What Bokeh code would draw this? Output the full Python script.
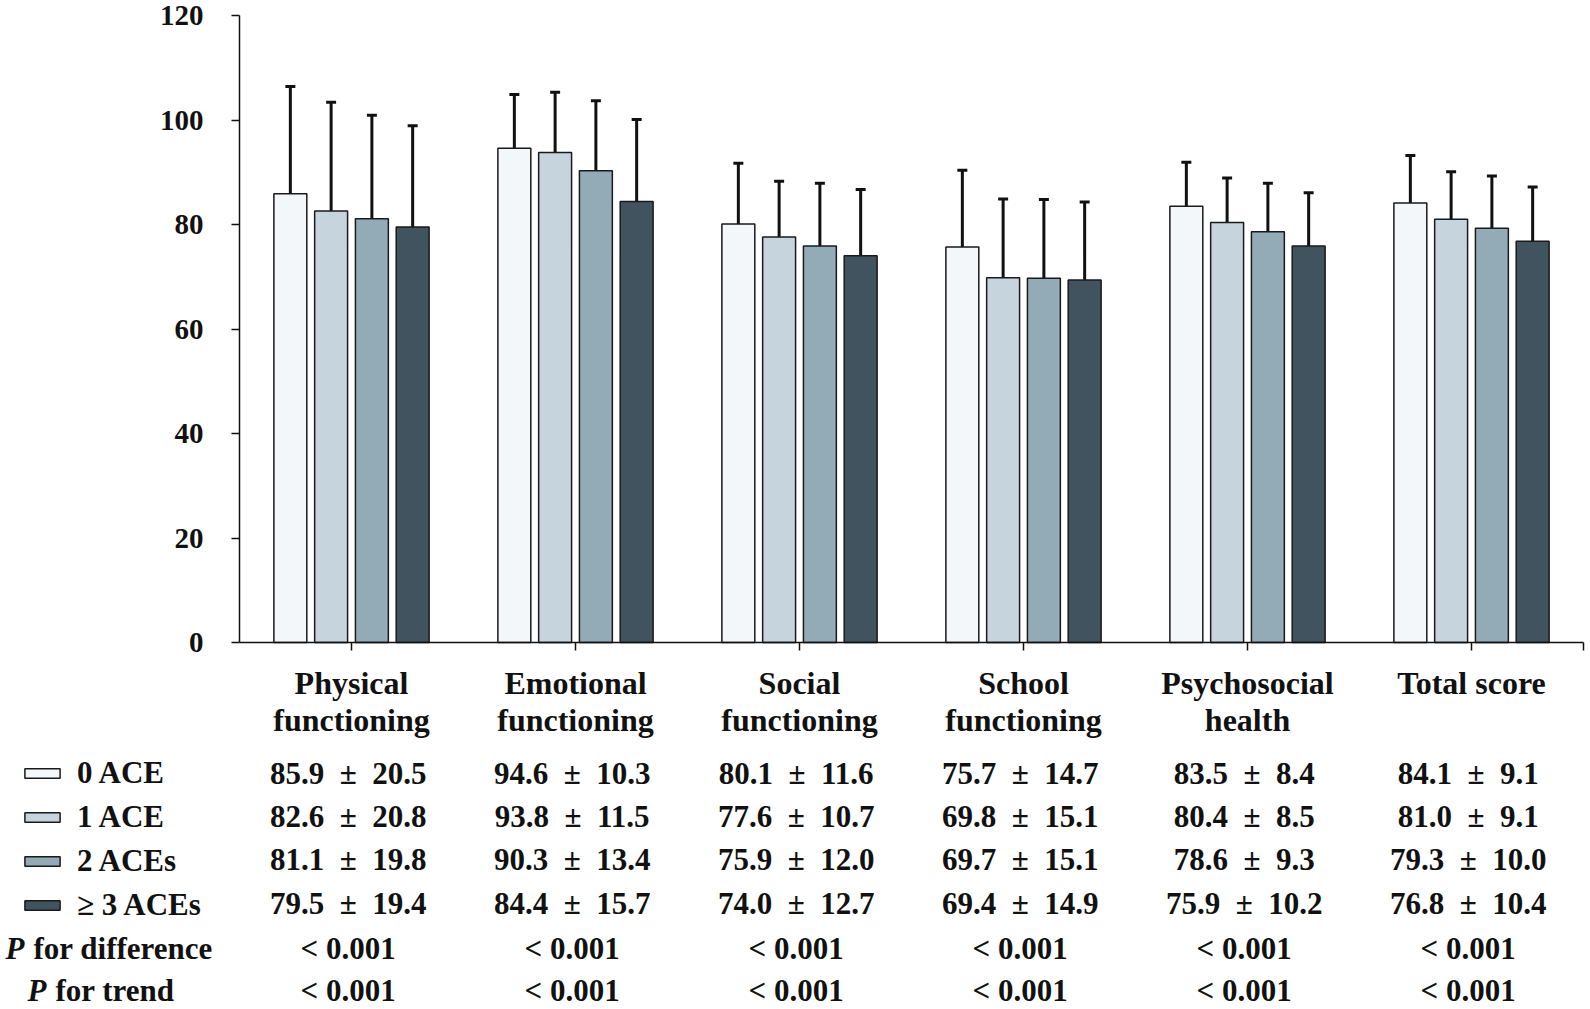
from bokeh.plotting import figure
from bokeh.models import (Range1d, LinearAxis, FixedTicker, Whisker, TeeHead,
                          ColumnDataSource, Legend, LegendItem)
from bokeh.core.properties import value
from bokeh.embed import file_html
from bokeh.resources import INLINE

# ---------------- data ----------------
categories = ["Physical functioning", "Emotional functioning", "Social functioning",
              "School functioning", "Psychosocial health", "Total score"]
category_labels = ["Physical\nfunctioning", "Emotional\nfunctioning", "Social\nfunctioning",
                   "School\nfunctioning", "Psychosocial\nhealth", "Total score"]
groups = ["0 ACE", "1 ACE", "2 ACEs", "\u2265 3 ACEs"]

mean_0ace = [85.9, 94.6, 80.1, 75.7, 83.5, 84.1]
sd_0ace = [20.5, 10.3, 11.6, 14.7, 8.4, 9.1]
mean_1ace = [82.6, 93.8, 77.6, 69.8, 80.4, 81.0]
sd_1ace = [20.8, 11.5, 10.7, 15.1, 8.5, 9.1]
mean_2aces = [81.1, 90.3, 75.9, 69.7, 78.6, 79.3]
sd_2aces = [19.8, 13.4, 12.0, 15.1, 9.3, 10.0]
mean_3aces = [79.5, 84.4, 74.0, 69.4, 75.9, 76.8]
sd_3aces = [19.4, 15.7, 12.7, 14.9, 10.2, 10.4]

p_difference = ["< 0.001", "< 0.001", "< 0.001", "< 0.001", "< 0.001", "< 0.001"]
p_trend = ["< 0.001", "< 0.001", "< 0.001", "< 0.001", "< 0.001", "< 0.001"]

y_ticks = [0, 20, 40, 60, 80, 100, 120]

means = [mean_0ace, mean_1ace, mean_2aces, mean_3aces]
sds = [sd_0ace, sd_1ace, sd_2aces, sd_3aces]

# ---------------- layout / style ----------------
colors = ["#f3f7fa", "#c6d5dd", "#93aab7", "#41535e"]
FONT = "Liberation Serif"
W, H = 1590, 1009
PX_CAT = 224.0      # pixels per category
X0 = 239.0          # pixel position of category axis start
Y0 = 642.0          # pixel position of y = 0
PX_Y = 5.225        # pixels per y unit

x_start = -X0 / PX_CAT
x_end = (W - X0) / PX_CAT
y_end = Y0 / PX_Y
y_start = -(H - Y0) / PX_Y


def px_x(px):
    return x_start + px / PX_CAT


def px_y(py):
    return (Y0 - py) / PX_Y


p = figure(width=W, height=H, x_range=Range1d(x_start, x_end),
           y_range=Range1d(y_start, y_end), output_backend="svg",
           toolbar_location=None, min_border=0, x_axis_type=None, y_axis_type=None)
p.outline_line_color = None
p.background_fill_color = "white"

n = len(categories)
centers = [i + 0.5 for i in range(n)]

# y axis
yaxis = LinearAxis(fixed_location=0, bounds=(0, 120), ticker=FixedTicker(ticks=y_ticks))
yaxis.major_tick_out = 8
yaxis.major_tick_in = 0
yaxis.minor_tick_line_color = None
yaxis.axis_line_width = 1.5
yaxis.major_tick_line_width = 1.5
yaxis.axis_line_color = "#111111"
yaxis.major_tick_line_color = "#111111"
yaxis.major_label_text_font = FONT
yaxis.major_label_text_font_style = "bold"
yaxis.major_label_text_font_size = "29px"
yaxis.major_label_text_color = "#111111"
yaxis.major_label_standoff = 28
p.add_layout(yaxis, "left")

# x axis (category axis) at y = 0
overrides = {c: lab for c, lab in zip(centers, category_labels)}
overrides[float(n)] = ""
xaxis = LinearAxis(fixed_location=0, bounds=(0, n),
                   ticker=FixedTicker(ticks=centers + [float(n)]),
                   major_label_overrides=overrides)
xaxis.major_tick_out = 8
xaxis.major_tick_in = 0
xaxis.minor_tick_line_color = None
xaxis.axis_line_width = 1.5
xaxis.major_tick_line_width = 1.5
xaxis.axis_line_color = "#111111"
xaxis.major_tick_line_color = "#111111"
xaxis.major_label_text_font = FONT
xaxis.major_label_text_font_style = "bold"
xaxis.major_label_text_font_size = "32px"
xaxis.major_label_text_line_height = 1.05
xaxis.major_label_text_color = "#111111"
xaxis.major_label_standoff = 14
xaxis.major_label_text_align = "center"
p.add_layout(xaxis, "below")

# bars + error bars
spacing = 0.182
bar_w = 0.147
renderers = []
for k, g in enumerate(groups):
    off = (k - 1.5) * spacing
    xs = [c + off for c in centers]
    upper = [m + s for m, s in zip(means[k], sds[k])]
    src = ColumnDataSource(dict(x=xs, top=means[k], upper=upper))
    r = p.vbar(x="x", top="top", bottom=0, width=bar_w, source=src,
               fill_color=colors[k], line_color="#1a1a1a", line_width=1.5)
    renderers.append(r)
    w = Whisker(base="x", upper="upper", lower="top", source=src,
                line_width=3, line_color="#111111",
                upper_head=TeeHead(size=10, line_width=3, line_color="#111111"),
                lower_head=None)
    p.add_layout(w)

# legend (table row labels)
legend = Legend(items=[LegendItem(label=g, renderers=[r]) for g, r in zip(groups, renderers)],
                location=(20, 86), orientation="vertical")
legend.glyph_width = 44
legend.glyph_height = 12
legend.label_height = 33
legend.spacing = 8
legend.padding = 0
legend.margin = 0
legend.label_standoff = 13
legend.border_line_color = None
legend.background_fill_alpha = 0
legend.label_text_font = FONT
legend.label_text_font_style = "bold"
legend.label_text_font_size = "31px"
legend.label_text_color = "#111111"
p.add_layout(legend)

# table values
row_px = [773, 815.5, 858.5, 902.5, 947.5, 990]
col_x = [c - 0.015 for c in centers]
txt_style = dict(text_font=value(FONT), text_font_style="bold", text_font_size="31px",
                 text_color="#111111", text_align="center", text_baseline="middle")
for k in range(len(groups)):
    labels = ["%.1f\u2002\u00b1\u2002%.1f" % (m, s) for m, s in zip(means[k], sds[k])]
    p.text(x=col_x, y=[px_y(row_px[k])] * n, text=labels, **txt_style)

p.text(x=col_x, y=[px_y(row_px[4])] * n, text=p_difference, **txt_style)
p.text(x=col_x, y=[px_y(row_px[5])] * n, text=p_trend, **txt_style)

# P row labels
lab_style = dict(text_font=value(FONT), text_font_size="31px", text_color="#111111",
                 text_align="left", text_baseline="middle")
p.text(x=[px_x(5), px_x(27)], y=[px_y(row_px[4]), px_y(row_px[5])], text=["P", "P"],
       text_font_style="bold italic", **lab_style)
p.text(x=[px_x(33), px_x(55)], y=[px_y(row_px[4]), px_y(row_px[5])],
       text=["for difference", "for trend"], text_font_style="bold", **lab_style)

open("out.html", "w").write(file_html(p, INLINE))
